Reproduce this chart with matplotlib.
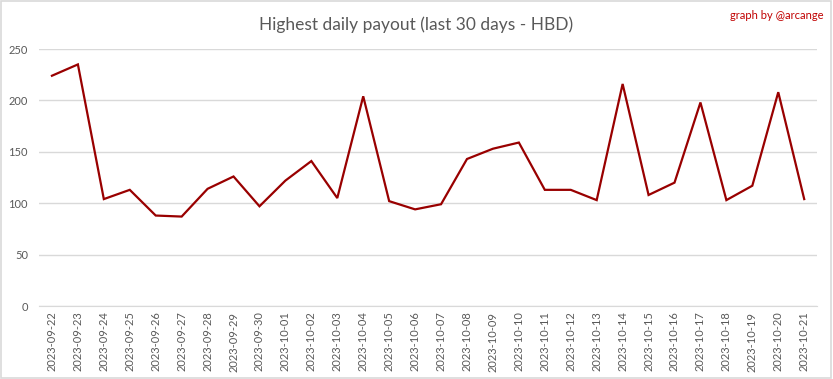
import matplotlib
matplotlib.use("Agg")
import matplotlib.pyplot as plt
from matplotlib.patches import Rectangle

dates = ["2023-09-22", "2023-09-23", "2023-09-24", "2023-09-25", "2023-09-26",
         "2023-09-27", "2023-09-28", "2023-09-29", "2023-09-30", "2023-10-01",
         "2023-10-02", "2023-10-03", "2023-10-04", "2023-10-05", "2023-10-06",
         "2023-10-07", "2023-10-08", "2023-10-09", "2023-10-10", "2023-10-11",
         "2023-10-12", "2023-10-13", "2023-10-14", "2023-10-15", "2023-10-16",
         "2023-10-17", "2023-10-18", "2023-10-19", "2023-10-20", "2023-10-21"]
payout = [224, 235, 104, 113, 88, 87, 114, 126, 97, 122,
          141, 105, 204, 102, 94, 99, 143, 153, 159, 113,
          113, 103, 216, 108, 120, 198, 103, 117, 208, 104]
yticks = [0, 50, 100, 150, 200, 250]

plt.rcParams['font.family'] = ['Lato', 'DejaVu Sans']

fig = plt.figure(figsize=(8.33, 3.79), dpi=100)
ax = fig.add_axes([0.0468, 0.1926, 0.9342, 0.6781])

x = list(range(len(dates)))
ax.plot(x, payout, color='#990000', linewidth=1.6, solid_joinstyle='miter')

ax.set_xlim(-0.5, len(dates) - 0.5)
ax.set_ylim(0, 250)
ax.set_yticks(yticks)
ax.set_yticklabels([str(v) for v in yticks], fontsize=8, color='#595959')
ax.set_xticks(x)
ax.set_xticklabels(dates, rotation=90, fontsize=8, color='#595959')
ax.tick_params(length=0, pad=4)
ax.tick_params(axis='y', pad=8)
ax.grid(axis='y', color='#d9d9d9', linewidth=1)
ax.set_axisbelow(True)
for s in ['top', 'right', 'left']:
    ax.spines[s].set_visible(False)
ax.spines['bottom'].set_color('#d9d9d9')

fig.text(0.499, 0.935, "Highest daily payout (last 30 days - HBD)", ha='center', va='center',
         fontsize=12.5, color='#595959')
fig.text(0.988, 0.96, "graph by @arcange", ha='right', va='center', fontsize=8, color='#c00000')

fig.patches.append(Rectangle((0.001, 0.002), 0.997, 0.995, transform=fig.transFigure,
                             fill=False, edgecolor='#d9d9d9', linewidth=1.2))

fig.savefig('out.png', dpi=100)
